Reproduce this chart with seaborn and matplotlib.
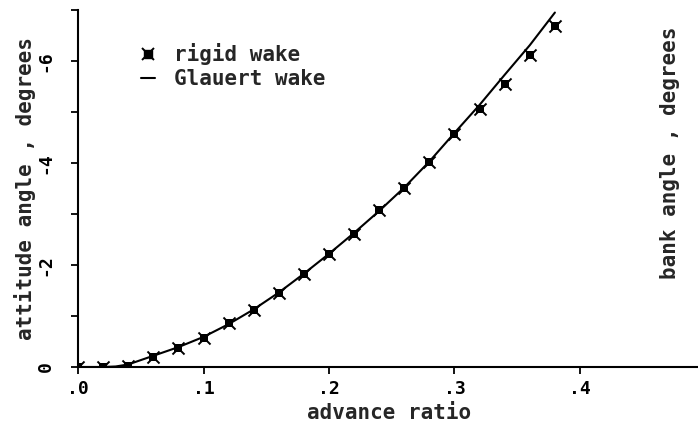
import matplotlib
matplotlib.use("Agg")
import matplotlib.pyplot as plt
from matplotlib.lines import Line2D
from matplotlib.legend_handler import HandlerTuple
import seaborn as sns
import pandas as pd

# ---- data ----
rigid_mu = [0.00, 0.02, 0.04, 0.06, 0.08, 0.10, 0.12, 0.14, 0.16, 0.18,
            0.20, 0.22, 0.24, 0.26, 0.28, 0.30, 0.32, 0.34, 0.36, 0.38]
rigid_att = [0.00, 0.00, -0.02, -0.20, -0.37, -0.57, -0.86, -1.12, -1.45, -1.82,
             -2.22, -2.60, -3.07, -3.51, -4.02, -4.57, -5.05, -5.54, -6.12, -6.69]

glauert_mu = [0.00, 0.02, 0.03, 0.04, 0.06, 0.08, 0.10, 0.12, 0.14, 0.16, 0.18,
              0.20, 0.22, 0.24, 0.26, 0.28, 0.30, 0.32, 0.34, 0.36, 0.38]
glauert_att = [0.00, 0.00, -0.01, -0.05, -0.22, -0.39, -0.59, -0.84, -1.13, -1.46, -1.83,
               -2.22, -2.63, -3.06, -3.52, -4.03, -4.59, -5.14, -5.73, -6.31, -6.95]

x_ticks = [0.0, 0.1, 0.2, 0.3, 0.4]
x_tick_labels = [".0", ".1", ".2", ".3", ".4"]
y_ticks = [0, -1, -2, -3, -4, -5, -6, -7]
y_tick_labels = ["0", "", "-2", "", "-4", "", "-6", ""]

rigid_df = pd.DataFrame({"mu": rigid_mu, "att": rigid_att})
glauert_df = pd.DataFrame({"mu": glauert_mu, "att": glauert_att})

sns.set_style("ticks")
plt.rcParams["font.family"] = ["DejaVu Sans Mono", "DejaVu Sans"]
plt.rcParams["font.weight"] = "bold"
plt.rcParams["axes.unicode_minus"] = False

fig = plt.figure(figsize=(6.98, 4.28), dpi=100)
ax = fig.add_axes([78 / 698, 61 / 428, 620 / 698, 357 / 428])

sns.lineplot(data=glauert_df, x="mu", y="att", ax=ax, color="black",
             linewidth=1.5, sort=False, estimator=None)
sns.scatterplot(data=rigid_df, x="mu", y="att", ax=ax, marker="s", s=30,
                color="black", edgecolor="black", linewidth=0, zorder=3)
sns.scatterplot(data=rigid_df, x="mu", y="att", ax=ax, marker="x", s=75,
                color="black", linewidth=1.4, zorder=3)

ax.set_xlim(0, 620 / 1255)
ax.set_ylim(0, -7)
ax.set_xticks(x_ticks)
ax.set_xticklabels(x_tick_labels)
ax.set_yticks(y_ticks)
ax.set_yticklabels(y_tick_labels)

for s in ["top", "right"]:
    ax.spines[s].set_visible(False)
for s in ["left", "bottom"]:
    ax.spines[s].set_linewidth(1.5)
    ax.spines[s].set_color("black")

ax.tick_params(axis="both", direction="out", length=5, width=1.3, colors="black",
               labelsize=13)
ax.tick_params(axis="x", pad=4)
ax.tick_params(axis="y", pad=12, labelrotation=90)
for lab in ax.get_yticklabels():
    lab.set_va("center")

ax.set_xlabel("advance ratio", fontsize=15, fontweight="bold")
ax.set_ylabel("attitude angle , degrees", fontsize=15, fontweight="bold")
ax.xaxis.set_label_coords(0.502, -0.102)
ax.yaxis.set_label_coords(-0.068, 0.5)

ax.text(0.955, 0.60, "bank angle , degrees", transform=ax.transAxes,
        rotation=90, ha="center", va="center", fontsize=15, fontweight="bold")

h_rigid = (Line2D([], [], ls="none", marker="s", ms=5.5, color="black"),
           Line2D([], [], ls="none", marker="x", ms=8.5, mew=1.4, color="black"))
h_glauert = Line2D([], [], color="black", lw=1.5)
ax.legend([h_rigid, h_glauert], ["rigid wake", "Glauert wake"],
          handler_map={tuple: HandlerTuple(ndivide=1, pad=0)},
          loc="upper left", bbox_to_anchor=(0.088, 0.93), frameon=False,
          prop={"size": 15, "weight": "bold"}, handlelength=0.7,
          handletextpad=0.9, labelspacing=0.2, borderaxespad=0)

fig.savefig("out.png", dpi=100)
